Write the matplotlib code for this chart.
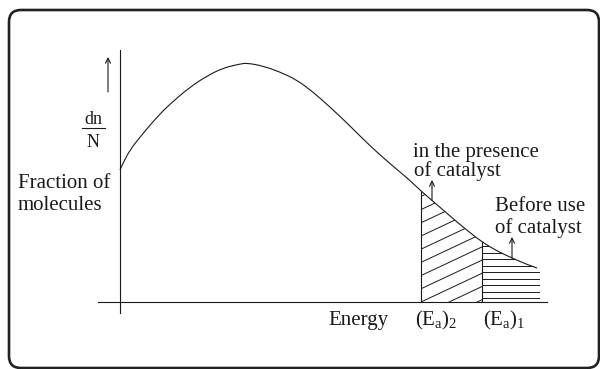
import numpy as np
import matplotlib
matplotlib.use("Agg")
import matplotlib.pyplot as plt
from matplotlib.patches import Polygon, FancyBboxPatch, PathPatch
from matplotlib.path import Path

plt.rcParams['font.family'] = ['Liberation Serif', 'DejaVu Serif']
plt.rcParams['mathtext.fontset'] = 'custom'
plt.rcParams['mathtext.rm'] = 'Liberation Serif'
plt.rcParams['mathtext.it'] = 'Liberation Serif'

# energy distribution curve (arbitrary units)
energy = [0, 3, 10, 20, 37, 50, 70, 87, 103, 120, 127, 143, 160, 177, 193,
          210, 227, 243, 260, 277, 290, 301, 315, 330, 346, 362, 377, 392, 407, 417]
fraction = [132, 139, 152, 165, 185, 198, 215, 226, 234, 238, 239, 236, 230, 222, 210,
            195, 179, 163, 147, 132.5, 121.5, 111, 99, 86, 72.5, 60, 51, 44, 37.5, 34]

ea2 = 301   # activation energy with catalyst
ea1 = 362   # activation energy without catalyst
hatch_end = 420

energy = np.array(energy, dtype=float)
fraction = np.array(fraction, dtype=float)


def smooth_path(x, y):
    # quadratic bezier through midpoints, using the read points as controls
    pts = np.column_stack([x, y])
    verts = [pts[0]]
    codes = [Path.MOVETO]
    for i in range(1, len(pts) - 1):
        end = pts[i + 1] if i == len(pts) - 2 else (pts[i] + pts[i + 1]) / 2
        verts += [pts[i], end]
        codes += [Path.CURVE3, Path.CURVE3]
    return Path(verts, codes)


fig = plt.figure(figsize=(6, 3.69), dpi=100)
ax = fig.add_axes([0, 0, 1, 1])
ax.set_xlim(-120, 480)
ax.set_ylim(-67, 302)
ax.set_axis_off()

ink = '#1a1a1a'

# frame
frame = FancyBboxPatch((-111, -66), 590, 358, boxstyle='round,pad=0,rounding_size=12',
                       fill=False, ec='#222222', lw=1.9, clip_on=False)
ax.add_patch(frame)

# axes lines
ax.plot([0, 0], [-11, 252], color=ink, lw=0.8)
ax.plot([-22, 427], [0, 0], color=ink, lw=0.8)

# curve
ax.add_patch(PathPatch(smooth_path(energy, fraction), fill=False, ec=ink, lw=0.8))

f_ea2 = np.interp(ea2, energy, fraction)
f_ea1 = np.interp(ea1, energy, fraction)

# region with catalyst (diagonal hatch)
m = (energy >= ea2) & (energy <= ea1)
left_pts = [(ea2, 0), (ea2, f_ea2)] + list(zip(energy[m], fraction[m])) + [(ea1, f_ea1), (ea1, 0)]
left_poly = Polygon(left_pts, closed=True, fill=False, ec='none')
ax.add_patch(left_poly)
xs = np.array([ea2 - 10, ea1 + 10])
for c in np.arange(-66, 130, 13.2):
    ln, = ax.plot(xs, 0.47 * (xs - ea2) + c, color=ink, lw=0.7)
    ln.set_clip_path(left_poly)

# region before catalyst (horizontal hatch)
m = energy >= ea1
right_pts = [(ea1, 0), (ea1, f_ea1)] + list(zip(energy[m], fraction[m])) + \
            [(hatch_end, fraction[-1]), (hatch_end, 0)]
right_poly = Polygon(right_pts, closed=True, fill=False, ec='none')
ax.add_patch(right_poly)
for y in np.arange(4, 62, 6.5):
    ln, = ax.plot([ea1 - 5, hatch_end + 5], [y, y], color=ink, lw=0.7)
    ln.set_clip_path(right_poly)

ax.plot([ea2, ea2], [0, f_ea2], color=ink, lw=0.8)
ax.plot([ea1, ea1], [0, f_ea1], color=ink, lw=0.8)

# arrows
arrow = dict(arrowstyle='->', color=ink, lw=0.8, shrinkA=0, shrinkB=0, mutation_scale=9)
ax.annotate('', xy=(-12, 245), xytext=(-12, 210), arrowprops=arrow)
ax.annotate('', xy=(312, 122), xytext=(312, np.interp(312, energy, fraction)), arrowprops=arrow)
ax.annotate('', xy=(392, 65), xytext=(392, np.interp(392, energy, fraction)), arrowprops=arrow)

# labels
fs = 15
ax.text(-27, 178, 'dn', fontsize=13, ha='center', va='baseline', color=ink)
ax.plot([-38, -15], [174, 174], color=ink, lw=0.8)
ax.text(-27, 155, 'N', fontsize=13, ha='center', va='baseline', color=ink)
ax.text(-102, 114, 'Fraction of', fontsize=fs, ha='left', va='baseline', color=ink)
ax.text(-102, 92, 'molecules', fontsize=fs, ha='left', va='baseline', color=ink)
ax.text(293, 145, 'in the presence', fontsize=fs, ha='left', va='baseline', color=ink)
ax.text(294, 126, 'of catalyst', fontsize=fs, ha='left', va='baseline', color=ink)
ax.text(375, 91, 'Before use', fontsize=fs, ha='left', va='baseline', color=ink)
ax.text(375, 69, 'of catalyst', fontsize=fs, ha='left', va='baseline', color=ink)
ax.text(208, -23, 'Energy', fontsize=fs, ha='left', va='baseline', color=ink)
ax.text(295, -23, r'$\mathrm{(E_{a})_{2}}$', fontsize=fs, ha='left', va='baseline', color=ink)
ax.text(363, -23, r'$\mathrm{(E_{a})_{1}}$', fontsize=fs, ha='left', va='baseline', color=ink)

fig.savefig('out.png', dpi=100, facecolor='white')
